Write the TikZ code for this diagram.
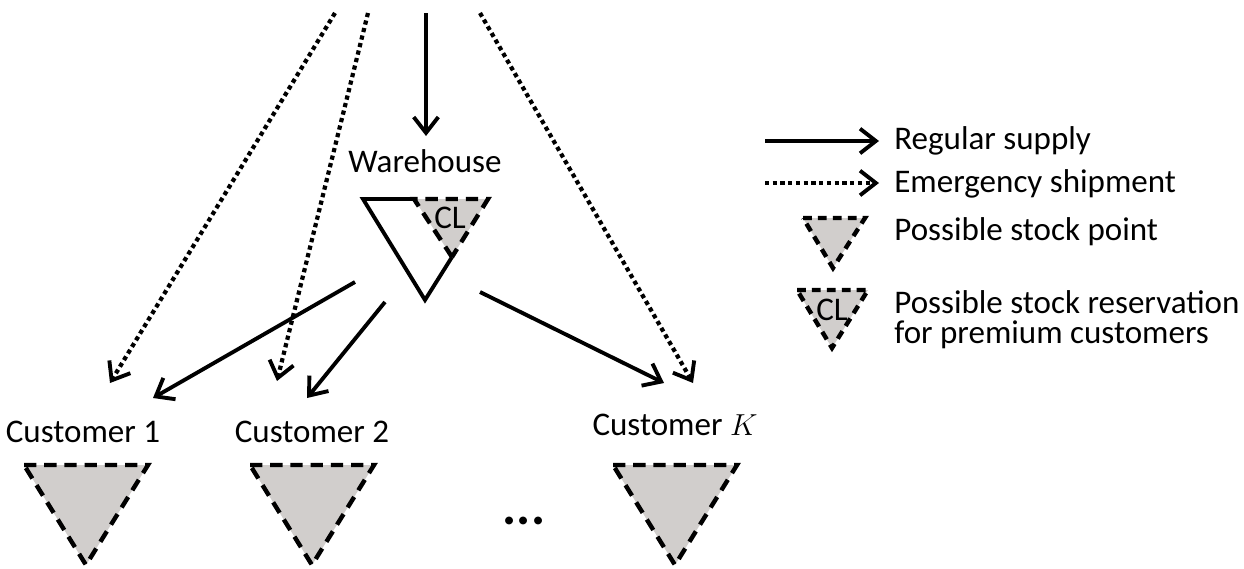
\documentclass[tikz,border=0pt]{standalone}
\usepackage{fontspec}
\setmainfont{Carlito}
\usetikzlibrary{arrows.meta}
\definecolor{stockgray}{RGB}{209,206,204}
\tikzset{
  tipbarb/.style={-{Straight Barb[length=9pt,width=14pt,line width=2.2pt]}},
  supply/.style={line width=2.2pt, tipbarb},
  emergency/.style={line width=2.4pt, dash pattern=on 2.4pt off 2pt, tipbarb},
  stockpt/.style={fill=stockgray, draw=black, line width=2.5pt, dash pattern=on 7pt off 4.5pt, line join=miter},
  smallstock/.style={stockpt, dash pattern=on 5pt off 3.5pt},
  solidedge/.style={draw=black, line width=2.2pt, line join=miter},
  lbl/.style={font=\fontsize{18.8}{22}\selectfont, inner sep=0pt},
}
\begin{document}
\begin{tikzpicture}[x=0.02cm, y=-0.02cm]
\useasboundingbox (0,0) rectangle (1244,568);

% ---------- warehouse ----------
\node[lbl, anchor=base] (wh) at (425,172) {Warehouse};
\fill[stockgray] (414,199) -- (488,199) -- (452,257) -- cycle;
\draw[solidedge] (414,199) -- (363,199) -- (425,300) -- (452,257);
\draw[stockpt, fill=none] (452,257) -- (414,199) -- (488,199) -- cycle;
\node[lbl, anchor=base] (cl) at (450,228) {CL};

% ---------- customers ----------
\foreach \n/\x in {c1/86, c2/312, cK/675}{
  \draw[stockpt] (\x-62,465) -- (\x+62,465) -- (\x,565) -- cycle;
}
\node[lbl, anchor=base] (cust1) at (83,442) {Customer 1};
\node[lbl, anchor=base] (cust2) at (312,442) {Customer 2};
\node[lbl, anchor=base] (custK) at (675,435) {Customer $K$};
\node[font=\fontsize{30}{30}\selectfont\bfseries, inner sep=0pt, anchor=base] (dots) at (524,524) {...};

% ---------- connector end points ----------
\coordinate (topin) at (426,13);
\coordinate (whin) at (426,136);
\coordinate (e1s) at (335,13);   \coordinate (e1t) at (110,383);
\coordinate (e2s) at (368,13);   \coordinate (e2t) at (277,381);
\coordinate (eKs) at (480,13);   \coordinate (eKt) at (693,383);
\coordinate (r1s) at (355,282);  \coordinate (r1t) at (153,398);
\coordinate (r2s) at (385,302);  \coordinate (r2t) at (307,398);
\coordinate (rKs) at (480,292);  \coordinate (rKt) at (664,383);

\draw[supply] (topin) -- (whin);
\draw[emergency] (e1s) -- (e1t);
\draw[emergency] (e2s) -- (e2t);
\draw[emergency] (eKs) -- (eKt);
\draw[supply] (r1s) -- (r1t);
\draw[supply] (r2s) -- (r2t);
\draw[supply] (rKs) -- (rKt);

% ---------- legend ----------
\coordinate (la1) at (765,141);  \coordinate (lb1) at (879,141);
\coordinate (la2) at (765,183);  \coordinate (lb2) at (879,183);
\draw[supply] (la1) -- (lb1);
\draw[emergency] (la2) -- (lb2);
\node[lbl, anchor=base west] (lt1) at (894,149) {Regular supply};
\node[lbl, anchor=base west] (lt2) at (894,192) {Emergency shipment};

\draw[smallstock] (803,218) -- (865,218) -- (833,268) -- cycle;
\node[lbl, anchor=base west] (lt3) at (894,240) {Possible stock point};

\draw[smallstock] (797,290) -- (868,290) -- (832,348) -- cycle;
\node[lbl, anchor=base] (lcl) at (832,320) {CL};
\node[lbl, anchor=base west] (lt4) at (894,313) {Possible stock reservation};
\node[lbl, anchor=base west] (lt5) at (894,343) {for premium customers};
\end{tikzpicture}
\end{document}
